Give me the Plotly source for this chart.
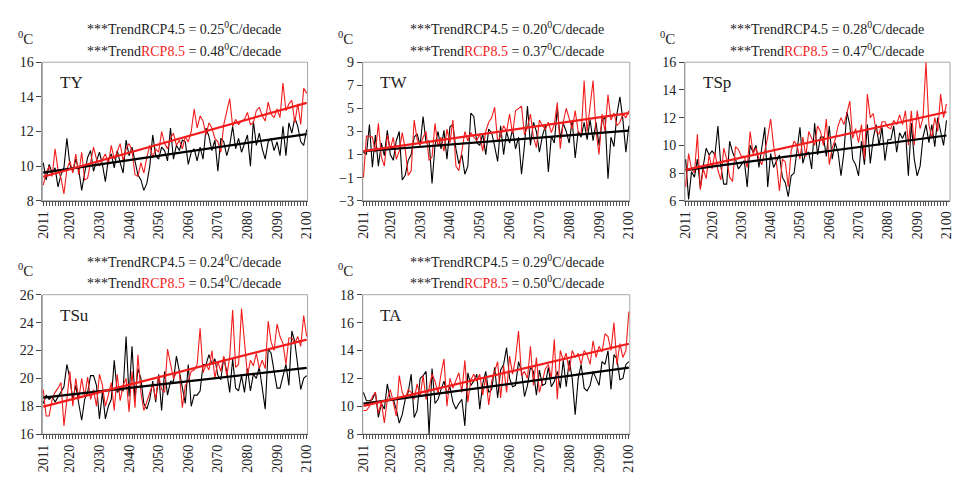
import numpy as np
import plotly.graph_objects as go

years = list(range(2011, 2101))

# Annual mean temperature (degC) for RCP4.5 (black) and RCP8.5 (red)
TY_RCP45 = [
    10.2, 9.2, 10.1, 9.6, 9.9, 8.8, 9.5, 9.9, 11.6, 10.1,
    9.7, 10.4, 9.8, 8.6, 9.6, 10.5, 10.9, 9.7, 10.3, 10.8,
    10.1, 9.1, 10.4, 10.7, 9.9, 10.9, 10.2, 9.6, 11.5, 10.6,
    11.1, 10.2, 9.5, 9.2, 8.6, 9.0, 10.0, 11.8, 10.6, 10.4,
    11.1, 10.9, 10.3, 12.2, 10.4, 11.2, 10.9, 11.5, 11.4, 10.1,
    10.8, 11.0, 10.3, 11.1, 10.4, 12.2, 11.7, 10.9, 11.5, 9.7,
    11.6, 11.4, 10.6, 11.2, 12.3, 11.0, 11.6, 10.8, 11.3, 11.8,
    10.0, 12.6, 11.2, 11.9, 11.0, 10.4, 11.4, 11.6, 10.9, 11.4,
    10.6, 12.3, 10.6, 12.5, 11.9, 12.8, 12.3, 11.4, 11.2, 12.1,
]
TY_RCP85 = [
    8.9, 9.6, 10.0, 9.4, 11.0, 9.8, 9.3, 8.4, 9.8, 10.3,
    9.6, 10.7, 9.5, 10.8, 9.2, 9.3, 10.2, 11.1, 10.4, 10.0,
    10.4, 10.7, 10.1, 11.2, 10.4, 10.8, 11.3, 10.3, 11.0, 11.3,
    10.9, 9.5, 9.4, 10.2, 9.6, 10.5, 11.2, 10.5, 11.0, 10.8,
    12.0, 11.3, 11.0, 11.6, 11.9, 11.2, 11.5, 11.0, 11.7, 11.4,
    12.0, 13.3, 12.2, 12.9, 12.6, 11.8, 12.5, 12.2, 11.6, 11.4,
    10.8, 12.4, 13.1, 13.9, 12.3, 12.7, 12.4, 12.6, 12.7, 13.1,
    12.4, 12.5, 13.2, 13.4, 12.9, 12.6, 13.7, 13.0, 12.8, 13.3,
    12.8, 14.8, 13.2, 13.6, 13.8, 12.5, 13.6, 12.4, 14.5, 14.2,
]
TW_RCP45 = [
    1.2, 1.0, 3.6, -0.1, 2.7, 0.0, 2.0, 0.9, 3.1, 1.0,
    0.5, 2.2, 3.0, -1.2, -0.8, 0.5, 1.0, 2.5, 2.8, 1.8,
    4.3, 2.0, 2.2, -1.5, 1.8, 3.0, 1.5, 3.1, 0.6, 3.4,
    3.6, 1.5, 0.2, 1.0, -0.7, 0.0, 4.6, 4.3, 2.0, 1.8,
    2.8, 1.0, 3.2, 2.9, 1.7, 0.4, 3.5, 1.0, 3.0, 2.0,
    3.2, 1.5, 2.5, -0.7, 1.8, 5.2, 1.8, 3.8, 3.0, 1.2,
    2.6, 3.5, -0.5, 2.6, 2.0, 5.0, 2.4, 3.7, 3.0, 2.0,
    4.0, 0.7, 3.0, 2.5, 3.8, 2.3, 4.0, 2.2, 3.8, 1.8,
    3.9, 4.3, -1.1, 2.5, 1.7, 4.5, 6.0, 4.0, 1.2, 3.5,
]
TW_RCP85 = [
    -1.0, 2.6, 2.6, 2.5, 1.2, 3.7, 0.8, 0.0, 2.7, 1.5,
    2.5, 0.6, 1.3, 2.9, 1.5, -0.8, -0.4, 4.0, 2.3, 1.8,
    2.5, 3.0, 0.5, 0.8, 3.7, 1.7, 2.5, 1.3, 3.2, 2.0,
    4.0, 0.0, -0.4, 1.5, 3.0, 2.2, 2.9, 2.5, 2.2, 2.8,
    1.3, 3.0, 3.8, 4.2, 5.1, 2.1, 2.6, 3.5, 3.0, 4.5,
    2.8, 4.8, 5.0, 5.2, 2.7, 3.4, 4.5, 2.5, 1.6, 4.0,
    3.5, 3.2, 3.8, 2.9, 3.6, 5.5, 1.5, 3.8, 5.0, 4.2,
    3.2, 4.8, 3.0, 2.7, 7.4, 3.0, 5.3, 7.4, 3.0, 1.0,
    4.5, 3.0, 6.2, 4.0, 4.6, 3.5, 3.8, 4.5, 4.2, 4.8,
]
TSP_RCP45 = [
    9.0, 6.1, 8.1, 7.7, 9.0, 6.9, 8.5, 9.8, 9.3, 9.6,
    9.3, 11.4, 8.5, 7.2, 7.2, 10.3, 9.5, 9.0, 8.3, 8.6,
    8.9, 7.0, 10.0, 9.5, 10.0, 8.4, 9.8, 11.3, 7.0, 9.4,
    8.4, 8.8, 9.3, 7.7, 7.3, 6.3, 7.8, 8.0, 9.5, 11.3,
    8.7, 9.5, 9.5, 8.3, 11.6, 9.3, 10.6, 10.6, 9.2, 11.4,
    9.0, 10.2, 9.5, 7.8, 9.5, 12.4, 11.5, 9.0, 8.6, 7.8,
    10.3, 8.6, 11.5, 8.7, 10.5, 11.5, 10.0, 11.3, 8.9, 10.4,
    10.4, 11.4, 9.5, 10.9, 10.5, 11.0, 7.8, 11.6, 9.0, 7.8,
    8.5, 10.6, 11.5, 10.2, 11.5, 9.9, 12.0, 11.0, 10.0, 11.8,
]
TSP_RCP85 = [
    7.0, 9.4, 8.3, 8.0, 10.8, 6.8, 8.3, 7.6, 9.3, 8.3,
    9.5, 8.2, 7.5, 9.8, 9.0, 7.7, 7.4, 9.9, 9.7, 9.2,
    9.2, 8.4, 11.0, 9.4, 9.8, 9.0, 8.6, 9.5, 10.6, 11.9,
    10.0, 8.7, 6.7, 9.0, 8.8, 7.0, 9.6, 10.3, 10.0, 9.0,
    10.6, 9.2, 11.0, 10.5, 10.0, 11.4, 11.0, 10.0, 11.9, 8.6,
    9.8, 10.4, 11.4, 12.0, 11.5, 12.3, 13.2, 10.5, 11.2, 10.2,
    11.5, 9.0, 13.7, 12.0, 12.3, 11.0, 10.8, 11.7, 11.7, 11.3,
    11.2, 11.8, 11.5, 12.2, 11.5, 12.5, 10.0, 12.5, 10.0, 12.5,
    11.2, 12.0, 16.0, 11.5, 10.5, 12.0, 11.0, 13.7, 12.0, 13.0,
]
TSU_RCP45 = [
    18.2, 18.8, 18.5, 18.7, 18.3, 18.7, 19.0, 19.4, 21.0, 20.0,
    18.5, 19.5, 18.2, 17.0, 18.5, 19.0, 20.2, 20.2, 19.5, 17.1,
    19.0, 17.1, 18.0, 18.5, 21.3, 19.0, 19.2, 19.1, 23.0, 18.7,
    22.3, 18.5, 20.7, 20.0, 18.2, 17.8, 18.5, 19.8, 18.3, 20.3,
    17.7, 20.5, 18.8, 19.8, 19.8, 21.6, 20.5, 19.3, 18.2, 21.0,
    18.0, 18.8, 18.8, 19.1, 21.0, 21.0, 21.7, 21.0, 21.4, 20.2,
    19.9, 21.5, 20.5, 19.0, 21.4, 19.3, 19.1, 20.2, 19.0, 20.7,
    19.1, 20.3, 20.0, 20.8, 19.3, 17.8, 22.1, 21.8, 20.5, 19.3,
    19.3, 20.2, 21.0, 19.5, 23.4, 22.6, 21.0, 19.2, 20.0, 20.2,
]
TSU_RCP85 = [
    19.2, 17.3, 17.3, 18.5, 19.0, 19.3, 19.7, 16.6, 18.5, 20.5,
    18.0, 20.0, 18.5, 20.0, 18.7, 20.1, 18.5, 19.2, 18.0, 20.3,
    19.5, 18.0, 18.8, 19.7, 17.7, 20.3, 18.4, 19.5, 20.0, 17.6,
    20.5, 17.9, 21.7, 19.0, 17.7, 18.3, 19.0, 19.6, 18.5, 20.2,
    19.2, 19.0, 22.1, 21.0, 20.0, 20.4, 20.4, 17.9, 19.5, 19.8,
    20.5, 20.6, 21.0, 23.6, 20.4, 21.0, 20.6, 22.0, 20.0, 21.2,
    20.5, 21.6, 20.2, 21.5, 24.9, 20.8, 21.0, 25.0, 22.3, 20.2,
    21.3, 20.9, 21.8, 20.7, 21.3, 20.7, 24.1, 22.6, 22.0, 23.9,
    23.0, 22.5, 21.0, 22.9, 22.9, 22.5, 23.0, 22.3, 24.5, 23.0,
]
TA_RCP45 = [
    11.0, 10.4, 10.4, 10.5, 11.0, 9.2, 10.2, 9.8, 11.6, 10.5,
    10.5, 9.8, 8.8, 9.4, 10.5, 11.0, 12.3, 9.2, 9.7, 12.0,
    12.2, 12.5, 8.0, 12.7, 10.2, 10.5, 11.2, 11.8, 10.9, 11.4,
    10.3, 9.8, 10.2, 10.5, 8.6, 12.4, 11.5, 11.8, 12.3, 9.8,
    11.6, 12.5, 11.0, 11.2, 12.8, 10.6, 12.6, 13.0, 14.2, 12.0,
    11.4, 11.5, 13.2, 12.5, 10.7, 11.5, 12.8, 12.5, 10.8, 12.6,
    11.5, 11.6, 12.8, 11.4, 11.8, 12.5, 11.3, 13.3, 11.4, 13.3,
    12.0, 9.4, 12.0, 13.0, 11.3, 11.1, 11.5, 12.5, 12.0, 11.5,
    13.2, 13.0, 14.0, 11.2, 13.7, 13.4, 11.9, 12.0, 13.0, 13.2,
]
TA_RCP85 = [
    9.7, 9.7, 10.0, 10.7, 11.0, 9.5, 10.3, 8.8, 10.5, 11.2,
    10.3, 9.3, 12.2, 11.0, 10.5, 11.2, 11.0, 10.5, 11.6, 10.7,
    12.2, 10.5, 11.3, 12.3, 11.8, 10.9, 12.3, 13.4, 10.0, 12.0,
    11.3, 11.8, 12.4, 11.0, 13.3, 10.3, 11.9, 12.3, 11.8, 12.3,
    10.8, 12.1, 10.1, 11.8, 12.5, 13.2, 10.6, 12.9, 11.0, 13.6,
    12.3, 13.4, 15.4, 12.2, 12.5, 12.0, 14.3, 11.5, 13.5, 11.0,
    11.8, 12.7, 13.0, 12.0, 14.8, 10.5, 14.0, 13.3, 13.8, 12.5,
    14.0, 13.5, 13.8, 13.0, 14.0, 13.7, 13.0, 14.7, 13.5, 14.3,
    13.9, 15.2, 15.0, 14.0, 16.0, 13.0, 14.5, 13.5, 14.0, 16.8,
]

panel_names = ["TY", "TW", "TSp", "TSu", "TA"]
rcp45_series = [TY_RCP45, TW_RCP45, TSP_RCP45, TSU_RCP45, TA_RCP45]
rcp85_series = [TY_RCP85, TW_RCP85, TSP_RCP85, TSU_RCP85, TA_RCP85]
trend45 = [0.25, 0.20, 0.28, 0.24, 0.29]   # degC per decade
trend85 = [0.48, 0.37, 0.47, 0.54, 0.50]
y_ranges = [(8, 16), (-3, 9), (6, 16), (16, 26), (8, 18)]
x_ticks = [2011, 2020, 2030, 2040, 2050, 2060, 2070, 2080, 2090, 2100]

W, H = 957, 479
RED = "#f21c1c"
TXT = "#222222"
FONT = "Liberation Serif, Times New Roman, serif"

# panel boxes in pixels: (left, right, top, bottom)
col_px = [(36, 305), (361, 632), (688, 957)]
row_px = [(57, 200), (297, 441)]
cells = [(0, 0), (1, 0), (2, 0), (0, 1), (1, 1)]
# the right-hand column runs to the page edge, slightly past the last year
x_end = [2100.3, 2100.3, 2101.2, 2100.3, 2100.3]
title_cx = [180, 507, 832, 180, 507]


def trend_line(vals, per_decade):
    """Line with the given slope through the centroid of the series."""
    x = np.array(years, dtype=float)
    y = np.array(vals, dtype=float)
    slope = per_decade / 10.0
    icpt = y.mean() - slope * x.mean()
    xs = np.array([years[0], years[-1]], dtype=float)
    return xs, icpt + slope * xs


fig = go.Figure()
annotations = []
shapes = []

for i, name in enumerate(panel_names):
    k = "" if i == 0 else str(i + 1)
    xa, ya = "x" + k, "y" + k
    c, r = cells[i]
    l, rr = col_px[c]
    t, b = row_px[r]
    xdom = [l / W, min(rr / W, 1.0)]
    ydom = [1 - b / H, 1 - t / H]

    fig.add_trace(go.Scatter(x=years, y=rcp45_series[i], mode="lines",
                             line=dict(color="black", width=1.1),
                             xaxis=xa, yaxis=ya, showlegend=False))
    fig.add_trace(go.Scatter(x=years, y=rcp85_series[i], mode="lines",
                             line=dict(color=RED, width=1.1),
                             xaxis=xa, yaxis=ya, showlegend=False))
    tx, ty = trend_line(rcp45_series[i], trend45[i])
    fig.add_trace(go.Scatter(x=tx, y=ty, mode="lines",
                             line=dict(color="black", width=2.2),
                             xaxis=xa, yaxis=ya, showlegend=False))
    tx, ty = trend_line(rcp85_series[i], trend85[i])
    fig.add_trace(go.Scatter(x=tx, y=ty, mode="lines",
                             line=dict(color=RED, width=2.2),
                             xaxis=xa, yaxis=ya, showlegend=False))

    y0, y1 = y_ranges[i]
    fig.layout["xaxis" + k] = dict(
        domain=xdom, anchor=ya, range=[2010.75, x_end[i]],
        tickvals=x_ticks, ticktext=[str(v) for v in x_ticks],
        tickangle=-90, ticks="outside", ticklen=4, tickcolor="#444",
        tickfont=dict(family=FONT, size=14, color=TXT),
        ticklabeloverflow="allow",
        minor=dict(tickvals=years, ticks="outside", ticklen=4, tickcolor="#555"),
        showline=True, linecolor="#555", linewidth=1,
        showgrid=False, zeroline=False, fixedrange=True,
    )
    fig.layout["yaxis" + k] = dict(
        domain=ydom, anchor=xa, range=[y0, y1], tick0=y0, dtick=2,
        ticks="outside", ticklen=5, tickcolor="#444",
        tickfont=dict(family=FONT, size=14, color=TXT),
        showline=True, linecolor="#9a9a9a", linewidth=1,
        showgrid=False, zeroline=False, fixedrange=True,
    )

    # thin grey frame around the plot area
    shapes.append(dict(type="rect", xref=xa + " domain", yref=ya + " domain",
                       x0=0, x1=1, y0=0, y1=1, layer="below",
                       line=dict(color="#a8a8a8", width=1)))

    # trend statements above the panel
    cx = title_cx[i]
    line_top = t - 35
    annotations.append(dict(
        x=cx / W, y=1 - line_top / H, xref="paper", yref="paper",
        text=f"***TrendRCP4.5 = {trend45[i]:.2f}<sup>0</sup>C/decade",
        showarrow=False, xanchor="center", yanchor="middle",
        font=dict(family=FONT, size=14, color=TXT)))
    annotations.append(dict(
        x=cx / W, y=1 - (line_top + 22) / H, xref="paper", yref="paper",
        text=(f"***Trend<span style='color:{RED}'>RCP8.5</span>"
              f" = {trend85[i]:.2f}<sup>0</sup>C/decade"),
        showarrow=False, xanchor="center", yanchor="middle",
        font=dict(family=FONT, size=14, color=TXT)))
    # unit label over the y axis
    annotations.append(dict(
        x=(l - 27) / W, y=1 - (t - 25) / H, xref="paper", yref="paper",
        text="<sup>0</sup>C", showarrow=False, xanchor="left", yanchor="middle",
        font=dict(family=FONT, size=15, color=TXT)))
    # panel name inside the plot
    annotations.append(dict(
        x=(l + 16) / W, y=1 - (t + 21) / H, xref="paper", yref="paper",
        text=name, showarrow=False, xanchor="left", yanchor="middle",
        font=dict(family=FONT, size=17, color=TXT)))

fig.update_layout(
    width=W, height=H, margin=dict(l=0, r=0, t=0, b=0),
    paper_bgcolor="white", plot_bgcolor="white",
    font=dict(family=FONT, color=TXT),
    annotations=annotations, shapes=shapes, showlegend=False,
)

fig.write_html("out.html")
